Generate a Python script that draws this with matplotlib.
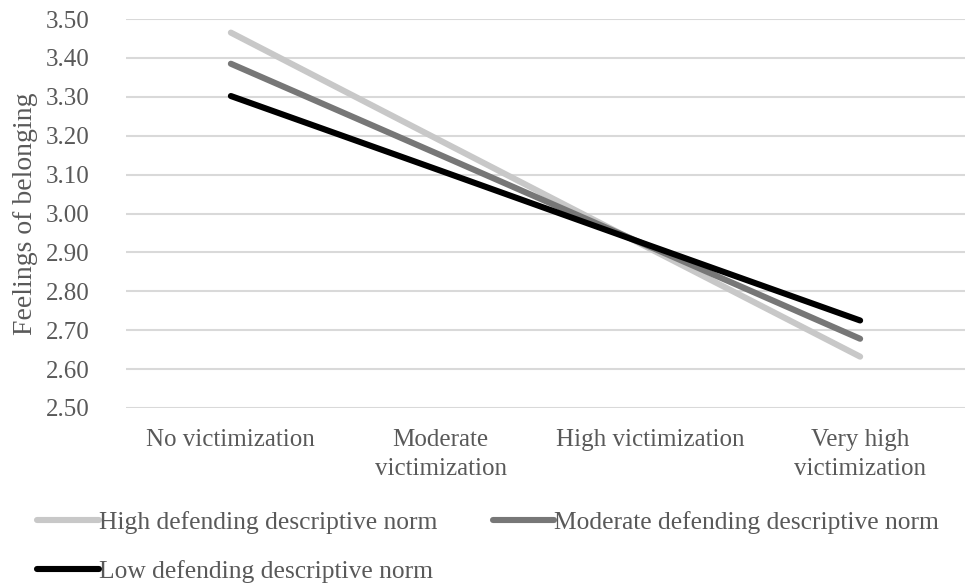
import matplotlib
matplotlib.use("Agg")
import matplotlib.pyplot as plt

# categories on the x axis
categories = ["No victimization", "Moderate\nvictimization",
              "High victimization", "Very high\nvictimization"]

# feelings of belonging for each defending norm level
high_norm = [3.465, 3.187, 2.909, 2.632]
moderate_norm = [3.385, 3.150, 2.914, 2.678]
low_norm = [3.302, 3.110, 2.917, 2.725]

series_labels = ["High defending descriptive norm",
                 "Moderate defending descriptive norm",
                 "Low defending descriptive norm"]

y_ticks = [2.50, 2.60, 2.70, 2.80, 2.90, 3.00, 3.10, 3.20, 3.30, 3.40, 3.50]

plt.rcParams['font.family'] = ['Liberation Serif', 'DejaVu Serif']
text_color = '#595959'
fs = 18

fig = plt.figure(figsize=(9.67, 5.85), dpi=100)
ax = fig.add_axes([126 / 967, 1 - 408 / 585, 839 / 967, 389 / 585])

x = list(range(len(categories)))
h1, = ax.plot(x, high_norm, color='#c8c8c8', lw=4.4, solid_capstyle='round')
h2, = ax.plot(x, moderate_norm, color='#777777', lw=4.4, solid_capstyle='round')
h3, = ax.plot(x, low_norm, color='#000000', lw=4.4, solid_capstyle='round')

ax.set_xlim(-0.5, len(categories) - 0.5)
ax.set_ylim(2.50, 3.50)
ax.set_yticks(y_ticks)
ax.set_yticklabels([f"{v:.2f}" for v in y_ticks])
ax.set_xticks(x)
ax.set_xticklabels(categories, linespacing=1.4)

ax.grid(axis='y', color='#d9d9d9', lw=1.5)
ax.set_axisbelow(True)
for s in ax.spines.values():
    s.set_visible(False)
ax.tick_params(axis='both', length=0, labelsize=fs, colors=text_color)
ax.tick_params(axis='y', pad=26)
ax.tick_params(axis='x', pad=15)

ax.set_ylabel("Feelings of belonging", fontsize=20, color=text_color)
ax.yaxis.set_label_coords(-88 / 839, 0.5)

# column-wise fill: High, Low in first column, Moderate in second
leg = fig.legend([h1, h3, h2], [series_labels[0], series_labels[2], series_labels[1]],
                 ncol=2, loc='upper left', bbox_to_anchor=(27 / 967, 1 - 501 / 585),
                 frameon=False, fontsize=18.4, handlelength=2.4, handletextpad=0.0,
                 columnspacing=2.2, labelspacing=1.0, borderaxespad=0)
for t in leg.get_texts():
    t.set_color(text_color)

fig.savefig("out.png", dpi=100)
